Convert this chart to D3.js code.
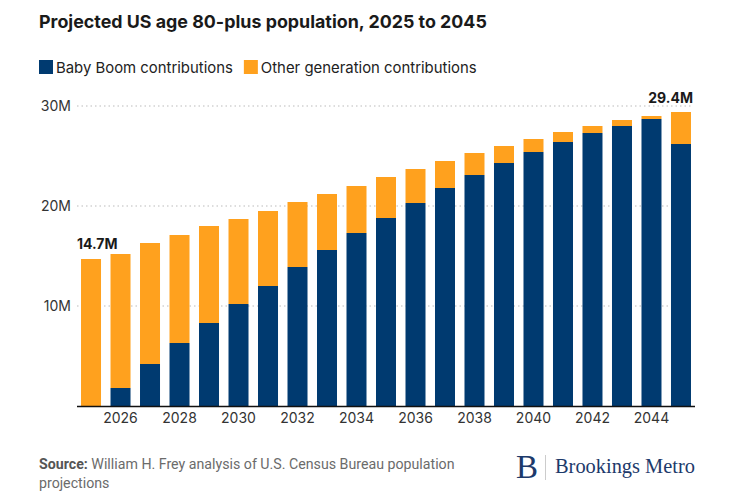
<!DOCTYPE html>
<html>
<head>
<meta charset="utf-8">
<script src="https://cdn.jsdelivr.net/npm/d3@7/dist/d3.min.js"></script>
<style>
  body { margin: 0; background: #fff; }
  svg { display: block; }
</style>
</head>
<body>
<svg id="chart" width="730" height="504"></svg>
<script>
const years = [2025,2026,2027,2028,2029,2030,2031,2032,2033,2034,2035,2036,2037,2038,2039,2040,2041,2042,2043,2044,2045];
const totals = [14.7,15.2,16.3,17.1,18.0,18.7,19.5,20.4,21.2,22.0,22.9,23.7,24.5,25.3,26.0,26.7,27.4,28.0,28.6,29.0,29.4];
const babyBoom = [0,1.8,4.2,6.3,8.3,10.2,12.0,13.9,15.6,17.3,18.8,20.3,21.8,23.1,24.3,25.4,26.4,27.3,28.0,28.7,26.2];
const yTicks = [10,20,30];
const xTickYears = [2026,2028,2030,2032,2034,2036,2038,2040,2042,2044];
const seriesNames = ["Baby Boom contributions", "Other generation contributions"];
const colors = ["#003a70", "#ffa11e"];

const rows = years.map((y, i) => ({ year: y, boom: babyBoom[i], other: +(totals[i] - babyBoom[i]).toFixed(2), total: totals[i] }));

const svg = d3.select("#chart");
const font = "Inter, 'Noto Sans', sans-serif";

const x = d3.scaleBand().domain(years).range([76, 696]).paddingInner(0.322).paddingOuter(0.17);
const y = d3.scaleLinear().domain([0, 30]).range([406, 106]);

// Title
svg.append("text").attr("x", 39).attr("y", 28)
  .style("font-family", font).style("font-weight", 700).style("font-size", "17.85px").attr("fill", "#1a1a1a")
  .text("Projected US age 80-plus population, 2025 to 2045");

// Legend
let lx = 39;
const leg = svg.append("g");
seriesNames.forEach((name, i) => {
  leg.append("rect").attr("x", lx).attr("y", 60).attr("width", 14).attr("height", 14).attr("fill", colors[i]);
  const t = leg.append("text").attr("x", lx + 17).attr("y", 72.5)
    .style("font-family", font).style("font-size", "14.9px").attr("fill", "#222").text(name);
  lx += 17 + t.node().getComputedTextLength() + 11;
});

// Gridlines
svg.append("g").selectAll("line").data(yTicks).join("line")
  .attr("x1", 77).attr("x2", 693).attr("y1", d => y(d)).attr("y2", d => y(d))
  .attr("stroke", "#bbb").attr("stroke-width", 1).attr("stroke-dasharray", "1.5,3");

// Y axis labels
const yAxis = d3.axisLeft(y).tickValues(yTicks).tickSize(0).tickPadding(0).tickFormat(d => d + "M");
const yg = svg.append("g").attr("transform", "translate(71,0)").call(yAxis);
yg.select(".domain").remove();
yg.selectAll("text").style("font-family", font).style("font-size", "14px").attr("fill", "#333");

// Stacked bars
const stack = d3.stack().keys(["boom", "other"]);
const stacked = stack(rows);
svg.append("g").selectAll("g").data(stacked).join("g")
  .attr("fill", (d, i) => colors[i])
  .selectAll("rect").data(d => d).join("rect")
  .attr("x", d => x(d.data.year))
  .attr("width", x.bandwidth())
  .attr("y", d => y(d[1]))
  .attr("height", d => Math.max(0, y(d[0]) - y(d[1])));

// Baseline
svg.append("line").attr("x1", 77).attr("x2", 695).attr("y1", y(0) + 0.5).attr("y2", y(0) + 0.5)
  .attr("stroke", "#111").attr("stroke-width", 1.5);

// X axis labels
const xAxis = d3.axisBottom(x).tickValues(xTickYears).tickSize(0).tickPadding(0);
const xg = svg.append("g").attr("transform", "translate(0,411)").call(xAxis);
xg.select(".domain").remove();
xg.selectAll("text").style("font-family", font).style("font-size", "14px").attr("fill", "#333").attr("dy", "0.85em");

// Value labels
const first = rows[0], last = rows[rows.length - 1];
svg.append("text").attr("x", 77).attr("y", y(first.total) - 10)
  .style("font-family", font).style("font-weight", 700).style("font-size", "14px").attr("fill", "#1a1a1a")
  .text(first.total.toFixed(1) + "M");
svg.append("text").attr("x", x(last.year) + x.bandwidth() + 2).attr("y", y(last.total) - 9)
  .attr("text-anchor", "end")
  .style("font-family", font).style("font-weight", 700).style("font-size", "14px").attr("fill", "#1a1a1a")
  .text(last.total.toFixed(1) + "M");

// Source
const src = svg.append("text").attr("x", 39).attr("y", 469)
  .style("font-family", "Roboto, sans-serif").style("font-size", "14.2px").attr("fill", "#6b6b6b");
src.append("tspan").style("font-weight", 700).attr("fill", "#555").text("Source:");
src.append("tspan").text(" William H. Frey analysis of U.S. Census Bureau population");
svg.append("text").attr("x", 39).attr("y", 488)
  .style("font-family", "Roboto, sans-serif").style("font-size", "14.2px").attr("fill", "#6b6b6b")
  .text("projections");

// Logo
svg.append("text").attr("x", 516).attr("y", 478)
  .style("font-family", "'Liberation Serif', 'DejaVu Serif', serif").style("font-size", "33px").attr("fill", "#1d3a6b")
  .text("B");
svg.append("line").attr("x1", 545.5).attr("x2", 545.5).attr("y1", 455).attr("y2", 480)
  .attr("stroke", "#ccc").attr("stroke-width", 1);
svg.append("text").attr("x", 555).attr("y", 473)
  .style("font-family", "'Liberation Serif', 'DejaVu Serif', serif").style("font-size", "20.4px").attr("fill", "#1d3a6b")
  .text("Brookings Metro");
</script>
</body>
</html>
